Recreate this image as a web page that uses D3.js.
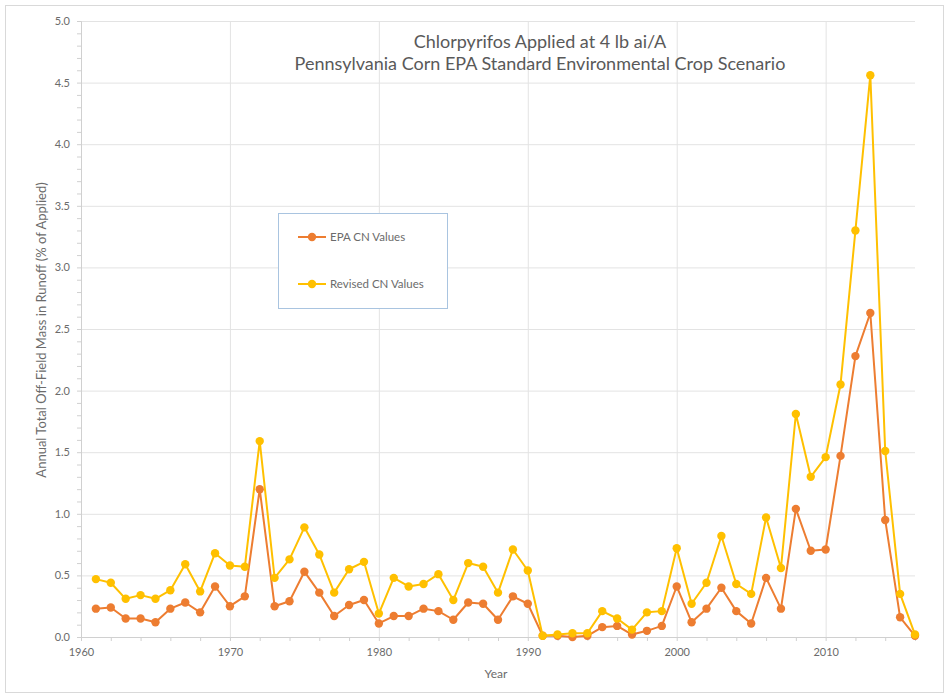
<!DOCTYPE html>
<html>
<head>
<meta charset="utf-8">
<script src="https://cdn.jsdelivr.net/npm/d3@7"></script>
<style>
  html, body { margin: 0; padding: 0; background: #fff; }
  svg { display: block; font-family: Lato, "Open Sans", sans-serif; }
</style>
</head>
<body>
<svg id="chart" width="949" height="698"></svg>
<script>
// Annual chlorpyrifos runoff, % of applied mass, per simulation year
const years = d3.range(1961, 2017);
const epaCN = [
  0.23, 0.24, 0.15, 0.15, 0.12, 0.23, 0.28, 0.20, 0.41, 0.25,
  0.33, 1.20, 0.25, 0.29, 0.53, 0.36, 0.17, 0.26, 0.30, 0.11,
  0.17, 0.17, 0.23, 0.21, 0.14, 0.28, 0.27, 0.14, 0.33, 0.27,
  0.01, 0.01, 0.00, 0.01, 0.08, 0.09, 0.02, 0.05, 0.09, 0.41,
  0.12, 0.23, 0.40, 0.21, 0.11, 0.48, 0.23, 1.04, 0.70, 0.71,
  1.47, 2.28, 2.63, 0.95, 0.16, 0.01
];
const revisedCN = [
  0.47, 0.44, 0.31, 0.34, 0.31, 0.38, 0.59, 0.37, 0.68, 0.58,
  0.57, 1.59, 0.48, 0.63, 0.89, 0.67, 0.36, 0.55, 0.61, 0.19,
  0.48, 0.41, 0.43, 0.51, 0.30, 0.60, 0.57, 0.36, 0.71, 0.54,
  0.01, 0.02, 0.03, 0.03, 0.21, 0.15, 0.06, 0.20, 0.21, 0.72,
  0.27, 0.44, 0.82, 0.43, 0.35, 0.97, 0.56, 1.81, 1.30, 1.46,
  2.05, 3.30, 4.56, 1.51, 0.35, 0.02
];
const xTickValues = [1960, 1970, 1980, 1990, 2000, 2010];
const yTickValues = [0, 0.5, 1.0, 1.5, 2.0, 2.5, 3.0, 3.5, 4.0, 4.5, 5.0];
const seriesNames = ["EPA CN Values", "Revised CN Values"];
const titleLines = ["Chlorpyrifos Applied at 4 lb ai/A",
                    "Pennsylvania Corn EPA Standard Environmental Crop Scenario"];

const series = [
  { name: seriesNames[0], values: epaCN, color: "#ED7D31" },
  { name: seriesNames[1], values: revisedCN, color: "#FFC000" }
];

const svg = d3.select("#chart");
const W = 949, H = 698;
const plot = { left: 81, right: 915, top: 21, bottom: 637 };

// outer chart frame
svg.append("rect")
  .attr("x", 5.5).attr("y", 5.5)
  .attr("width", W - 11).attr("height", H - 11)
  .attr("fill", "#fff").attr("stroke", "#d9d9d9").attr("stroke-width", 1);

const x = d3.scaleLinear().domain([1960, 2016]).range([plot.left, plot.right]);
const y = d3.scaleLinear().domain([0, 5]).range([plot.bottom, plot.top]);

const gridColor = "#e3e3e3";
const labelColor = "#6b6b6b";

// horizontal gridlines
svg.append("g")
  .attr("transform", `translate(${plot.left},0)`)
  .call(d3.axisLeft(y).tickValues(yTickValues.filter(v => v > 0))
        .tickSize(-(plot.right - plot.left)).tickFormat(""))
  .call(g => g.select(".domain").remove())
  .call(g => g.selectAll("line").attr("stroke", gridColor));

// vertical gridlines
svg.append("g")
  .attr("transform", `translate(0,${plot.bottom})`)
  .call(d3.axisBottom(x).tickValues(xTickValues.filter(v => v > 1960))
        .tickSize(-(plot.bottom - plot.top)).tickFormat(""))
  .call(g => g.select(".domain").remove())
  .call(g => g.selectAll("line").attr("stroke", gridColor));

// y axis with minor ticks every 0.1
svg.append("g")
  .attr("transform", `translate(${plot.left},0)`)
  .call(d3.axisLeft(y).tickValues(d3.range(0, 50).map(i => i / 10)).tickSize(4).tickFormat(""))
  .call(g => g.select(".domain").attr("stroke", "#d0d0d0"))
  .call(g => g.selectAll("line").attr("stroke", "#d0d0d0"));

svg.append("g")
  .attr("transform", `translate(${plot.left},0)`)
  .call(d3.axisLeft(y).tickValues(yTickValues).tickSize(0).tickPadding(11)
        .tickFormat(d3.format(".1f")))
  .call(g => g.select(".domain").remove())
  .call(g => g.selectAll("text").attr("fill", labelColor)
        .attr("font-size", 11).attr("font-family", "Lato, sans-serif"));

// x axis with minor ticks every 2 years
svg.append("g")
  .attr("transform", `translate(0,${plot.bottom})`)
  .call(d3.axisBottom(x).tickValues(d3.range(1960, 2017, 2)).tickSize(4).tickFormat(""))
  .call(g => g.select(".domain").attr("stroke", "#d0d0d0"))
  .call(g => g.selectAll("line").attr("stroke", "#d0d0d0"));

svg.append("g")
  .attr("transform", `translate(0,${plot.bottom})`)
  .call(d3.axisBottom(x).tickValues(xTickValues).tickSize(0).tickPadding(11)
        .tickFormat(d3.format("d")))
  .call(g => g.select(".domain").remove())
  .call(g => g.selectAll("text").attr("fill", labelColor)
        .attr("font-size", 11).attr("font-family", "Lato, sans-serif"));

// axis titles
svg.append("text")
  .attr("x", (plot.left + plot.right) / 2 - 2).attr("y", 678)
  .attr("text-anchor", "middle").attr("fill", labelColor)
  .attr("font-size", 12).text("Year");

svg.append("text")
  .attr("transform", "translate(46,330) rotate(-90)")
  .attr("text-anchor", "middle").attr("fill", labelColor)
  .attr("font-size", 13).text("Annual Total Off-Field Mass in Runoff (% of Applied)");

// chart title
const title = svg.append("text")
  .attr("text-anchor", "middle").attr("fill", "#595959").attr("font-size", 18);
titleLines.forEach((t, i) => {
  title.append("tspan").attr("x", 540).attr("y", 48 + i * 22).text(t);
});

// series lines and markers
const line = d3.line()
  .x((d, i) => x(years[i]))
  .y(d => y(d));

series.forEach(s => {
  const g = svg.append("g");
  g.append("path")
    .datum(s.values)
    .attr("d", line)
    .attr("fill", "none")
    .attr("stroke", s.color)
    .attr("stroke-width", 2)
    .attr("stroke-linejoin", "round");
  g.selectAll("circle")
    .data(s.values)
    .join("circle")
    .attr("cx", (d, i) => x(years[i]))
    .attr("cy", d => y(d))
    .attr("r", 4.2)
    .attr("fill", s.color);
});

// legend
const legend = svg.append("g");
legend.append("rect")
  .attr("x", 278.5).attr("y", 213.5).attr("width", 169).attr("height", 95)
  .attr("fill", "#fff").attr("stroke", "#a9c4e0").attr("stroke-width", 1);

series.forEach((s, i) => {
  const ly = 237 + i * 47;
  legend.append("line")
    .attr("x1", 298).attr("x2", 326).attr("y1", ly).attr("y2", ly)
    .attr("stroke", s.color).attr("stroke-width", 2);
  legend.append("circle")
    .attr("cx", 312).attr("cy", ly).attr("r", 4.2).attr("fill", s.color);
  legend.append("text")
    .attr("x", 330).attr("y", ly + 4)
    .attr("fill", labelColor).attr("font-size", 11.5)
    .text(s.name);
});
</script>
</body>
</html>
